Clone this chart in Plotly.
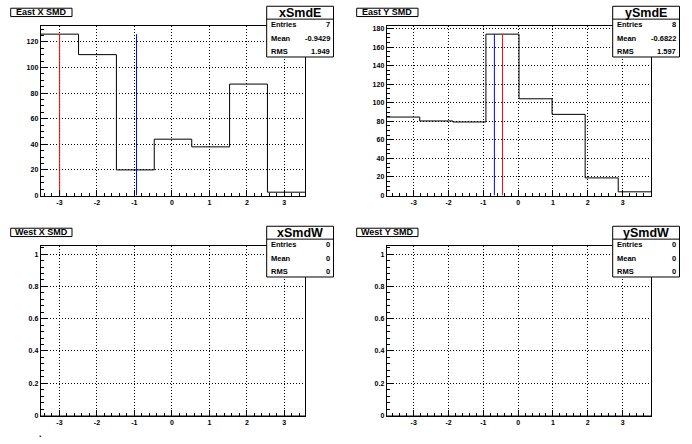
import plotly.graph_objects as go

W, H = 692, 444

# ---------------- data ----------------
east_x_edges = [-3.5, -2.49, -1.48, -0.47, 0.53, 1.54, 2.55, 3.56]
east_x_counts = [126, 110, 20, 44, 38, 87, 2.6]
east_y_edges = [-3.775, -2.825, -1.875, -0.925, 0.025, 0.975, 1.925, 2.875, 3.825]
east_y_counts = [84.6, 80.4, 79.3, 174, 104.3, 87.5, 19, 4]
west_x_edges = east_x_edges
west_x_counts = [0, 0, 0, 0, 0, 0, 0]
west_y_edges = east_y_edges
west_y_counts = [0, 0, 0, 0, 0, 0, 0, 0]

panel_titles = ["East X SMD", "East Y SMD", "West X SMD", "West Y SMD"]
hist_names = ["xSmdE", "ySmdE", "xSmdW", "ySmdW"]
entries = ["7", "8", "0", "0"]
means = ["-0.9429", "-0.6822", "0", "0"]
rms_vals = ["1.949", "1.597", "0", "0"]
mean_values = [-0.9429, -0.6822, None, None]

x_tick_vals = [-3, -2, -1, 0, 1, 2, 3]
x_tick_text = ["-3", "-2", "-1", "0", "1", "2", "3"]
y_tick_vals_p1 = [0, 20, 40, 60, 80, 100, 120]
y_tick_vals_p2 = [0, 20, 40, 60, 80, 100, 120, 140, 160, 180]
y_tick_vals_empty = [0, 0.2, 0.4, 0.6, 0.8, 1]
y_tick_text_empty = ["0", "0.2", "0.4", "0.6", "0.8", "1"]

hists = [
    (east_x_edges, east_x_counts),
    (east_y_edges, east_y_counts),
    (west_x_edges, west_x_counts),
    (west_y_edges, west_y_counts),
]

# ---------------- layout geometry (pixels) ----------------
PAD_W, PAD_H = 346, 222
FX0, FX1, FY0, FY1 = 40.7, 305.3, 25.3, 196.3
pads = [(0, 0), (PAD_W, 0), (0, PAD_H), (PAD_W, PAD_H)]

def pxx(x):
    return x / W

def pyy(y):
    return 1 - y / H

FONT = "Liberation Sans, Arial, Helvetica, sans-serif"

fig = go.Figure()
shapes = []
annotations = []

for i, ((ox, oy), (edges, counts)) in enumerate(zip(pads, hists)):
    k = i + 1
    xa = "x" if k == 1 else f"x{k}"
    ya = "y" if k == 1 else f"y{k}"
    # histogram outline
    fig.add_trace(go.Scatter(
        x=edges, y=list(counts) + [counts[-1]], mode="lines",
        line=dict(color="black", width=1, shape="hv"),
        xaxis=xa, yaxis=ya, showlegend=False, hoverinfo="skip"))
    cmax = max(counts)
    if cmax > 0:
        imax = counts.index(cmax)
        peak_center = (edges[imax] + edges[imax + 1]) / 2
        fig.add_trace(go.Scatter(
            x=[peak_center, peak_center], y=[0, cmax], mode="lines",
            line=dict(color="#ff0000", width=1), xaxis=xa, yaxis=ya,
            showlegend=False, hoverinfo="skip"))
        m = mean_values[i]
        fig.add_trace(go.Scatter(
            x=[m, m], y=[0, cmax], mode="lines",
            line=dict(color="#0000ff", width=1), xaxis=xa, yaxis=ya,
            showlegend=False, hoverinfo="skip"))
        yrange = [0, 1.05 * cmax]
        yticks = y_tick_vals_p1 if i == 0 else y_tick_vals_p2
        ytext = [str(v) for v in yticks]
        yminor = 5
    else:
        yrange = [0, 1.05]
        yticks = y_tick_vals_empty
        ytext = y_tick_text_empty
        yminor = 0.04

    common = dict(
        showline=True, mirror=True, linecolor="black", linewidth=1,
        showgrid=True, gridcolor="black", gridwidth=1, griddash="1px,2px",
        zeroline=False, ticks="inside", ticklen=6, tickcolor="black", tickwidth=1,
        tickfont=dict(family=FONT, size=7, color="black", weight="bold"),
        tickmode="array",
    )
    fig.update_layout({
        f"xaxis{k if k > 1 else ''}": dict(
            common, domain=[pxx(ox + FX0), pxx(ox + FX1)], anchor=ya,
            range=[edges[0], edges[-1]], tickvals=x_tick_vals, ticktext=x_tick_text,
            minor=dict(tickmode="linear", tick0=0, dtick=0.2, ticks="inside",
                       ticklen=3, tickcolor="black", showgrid=False),
        ),
        f"yaxis{k if k > 1 else ''}": dict(
            common, domain=[pyy(oy + FY1), pyy(oy + FY0)], anchor=xa,
            range=yrange, tickvals=yticks, ticktext=ytext,
            minor=dict(tickmode="linear", tick0=0, dtick=yminor, ticks="inside",
                       ticklen=3, tickcolor="black", showgrid=False),
        ),
    })

    # title box
    shapes.append(dict(type="rect", xref="paper", yref="paper",
                       x0=pxx(ox + 10.7), x1=pxx(ox + 72), y0=pyy(oy + 15.7), y1=pyy(oy + 7.3),
                       line=dict(color="black", width=1), fillcolor="white", layer="above"))
    annotations.append(dict(xref="paper", yref="paper", x=pxx(ox + 41.3), y=pyy(oy + 11.6),
                            text=panel_titles[i], showarrow=False, xanchor="center", yanchor="middle",
                            font=dict(family=FONT, size=9, color="black", weight="bold")))

    # stats box
    sx0, sx1, sy0, sy1, sep = ox + 266.7, ox + 333.5, oy + 5.3, oy + 56.5, oy + 18.3
    shapes.append(dict(type="rect", xref="paper", yref="paper",
                       x0=pxx(sx0), x1=pxx(sx1), y0=pyy(sy1), y1=pyy(sy0),
                       line=dict(color="black", width=1), fillcolor="white", layer="above"))
    shapes.append(dict(type="line", xref="paper", yref="paper",
                       x0=pxx(sx0), x1=pxx(sx1), y0=pyy(sep), y1=pyy(sep),
                       line=dict(color="black", width=1), layer="above"))
    annotations.append(dict(xref="paper", yref="paper", x=pxx((sx0 + sx1) / 2), y=pyy(oy + 12),
                            text=hist_names[i], showarrow=False, xanchor="center", yanchor="middle",
                            font=dict(family=FONT, size=12.5, color="black", weight="bold")))
    for label, val, yy in [("Entries", entries[i], 24.2), ("Mean", means[i], 37.6), ("RMS", rms_vals[i], 50.6)]:
        annotations.append(dict(xref="paper", yref="paper", x=pxx(sx0 + 2.3), y=pyy(oy + yy),
                                text=label, showarrow=False, xanchor="left", yanchor="middle",
                                font=dict(family=FONT, size=7.5, color="black", weight="bold")))
        annotations.append(dict(xref="paper", yref="paper", x=pxx(sx1 - 2), y=pyy(oy + yy),
                                text=val, showarrow=False, xanchor="right", yanchor="middle",
                                font=dict(family=FONT, size=7.5, color="black", weight="bold")))

# small stray dot below the lower-left pad
annotations.append(dict(xref="paper", yref="paper", x=pxx(40), y=pyy(437), text=".",
                        showarrow=False, xanchor="center", yanchor="middle",
                        font=dict(family=FONT, size=9, color="black", weight="bold")))

fig.update_layout(
    width=W, height=H, margin=dict(l=0, r=0, t=0, b=0),
    paper_bgcolor="white", plot_bgcolor="white",
    shapes=shapes, annotations=annotations, showlegend=False,
)

fig.write_html(
    "out.html",
    config={"displayModeBar": False, "staticPlot": True},
    post_script="document.body.style.margin='0';document.body.style.padding='0';document.body.style.overflow='hidden';",
)
